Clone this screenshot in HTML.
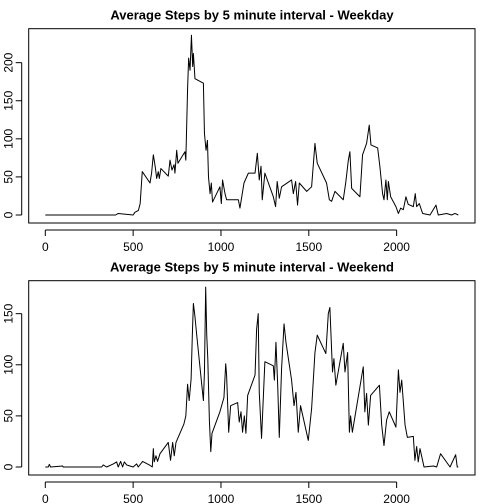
<!DOCTYPE html>
<html><head><meta charset="utf-8">
<style>
html,body{margin:0;padding:0;background:#fff;}
svg{display:block;font-family:"Liberation Sans",Arial,sans-serif;}
</style></head>
<body>
<svg id="c" width="504" height="504" xmlns="http://www.w3.org/2000/svg"></svg>
<script>
const xTicks = [0, 500, 1000, 1500, 2000];
const wdInterval = [0,400,415,500,510,530,540,552,596,605,615,626,634,643,649,658,700,710,721,733,738,748,755,795,800,804,810,816,824,832,839,843,852,900,906,915,923,929,938,945,952,994,1002,1009,1023,1032,1099,1108,1131,1156,1194,1207,1218,1228,1235,1250,1298,1311,1320,1332,1345,1402,1412,1425,1436,1446,1488,1516,1535,1548,1601,1617,1630,1649,1696,1710,1725,1734,1744,1791,1806,1829,1844,1854,1892,1905,1920,1928,1939,1947,1953,1966,1996,2010,2023,2038,2053,2066,2095,2106,2114,2129,2148,2190,2224,2237,2285,2313,2332,2351];
const wdSteps = [0,0,2,0,3.5,6,15,57,42,55,79,63,48,57,48,61,51,72,59,66,55,85,68,83,72,109,166,206,190,236,195,212,179,173,107,85,98,50,28,42,17,37,15,46,28,20,20,9,42,55,55,81,46,64,20,55,24,11,44,22,37,46,28,44,13,42,31,37,94,68,42,20,18,31,20,42,72,83,35,24,79,94,118,92,88,63,28,20,46,20,44,24,11,2,9,7,24,14,11,28,11,15,2,0,13,0,2,0,2,0];
const weInterval = [0,17,23,30,99,102,321,330,349,387,406,415,429,440,450,463,500,520,529,554,596,609,615,620,630,639,653,700,713,725,734,744,789,800,810,819,830,837,843,852,862,894,900,906,913,919,925,934,942,949,994,1017,1027,1032,1044,1055,1095,1104,1114,1123,1133,1142,1152,1194,1203,1212,1218,1231,1250,1298,1304,1313,1323,1332,1345,1359,1370,1402,1416,1427,1440,1453,1497,1516,1535,1548,1597,1611,1620,1635,1643,1654,1696,1706,1721,1731,1738,1748,1810,1819,1829,1839,1852,1902,1915,1928,1943,1958,1996,2010,2019,2029,2048,2061,2095,2104,2114,2123,2133,2156,2209,2228,2250,2304,2336,2345,2351];
const weSteps = [0,0,2.6,0,1,0,0,2,0,3,5,0,5.5,0,5,2,0,3,0,5.5,1.6,0,18,5,11,5.5,13,24,6.5,24,11,24,42,50,81,65,86,129,160,147,129,75,65,93,176,129,106,46,15,33,54,68,101,90,34,60,63,44,54,34,50,33,70,90,135,150,73,28,103,99,85,122,80,29,96,140,122,85,60,73,34,60,26,57,112,129,111,150,156,93,106,80,121,93,112,34,50,34,98,54,72,41,70,80,41,21,46,54,39,95,73,85,41,29,30,6.5,20,5,18,0,1,0,13,0,12,0,0];
const wdYTicks = [0,50,100,150,200];
const weYTicks = [0,50,100,150];

const svg = document.getElementById('c');
const NS = 'http://www.w3.org/2000/svg';
function mk(tag, attrs, parent){const e=document.createElementNS(NS,tag);for(const k in attrs)e.setAttribute(k,attrs[k]);(parent||svg).appendChild(e);return e;}

function panel(opts){
  const g = mk('g',{});
  
  
  const L=28.7,R=475,T=opts.top,B=opts.top+194.3;
  const xS = v => 45.3 + v*0.175665;
  const yS = v => opts.y0 - v*opts.yk;
  const t = mk('text',{x:252,y:T-9,'text-anchor':'middle','font-size':'13','font-weight':'bold',fill:'#000'},g);
  t.textContent = opts.title;
  
  
  const box = mk('rect',{x:L,y:T,width:R-L,height:B-T,fill:'none',stroke:'#000','stroke-width':1},g);
  
  
  const xa = mk('g',{},g);
  
  
  mk('line',{x1:xS(xTicks[0]),x2:xS(xTicks[xTicks.length-1]),y1:B+7,y2:B+7,stroke:'#000'},xa);
  xTicks.forEach(v=>{
    mk('line',{x1:xS(v),x2:xS(v),y1:B+7,y2:B+13,stroke:'#000'},xa);
    const tx = mk('text',{x:xS(v),y:B+28,'text-anchor':'middle','font-size':'12',fill:'#000'},xa);
    tx.textContent = v;
    
    
  });
  const ya = mk('g',{},g);
  
  
  const yt = opts.yTicks;
  mk('line',{x1:L-7,x2:L-7,y1:yS(yt[0]),y2:yS(yt[yt.length-1]),stroke:'#000'},ya);
  yt.forEach(v=>{
    mk('line',{x1:L-13,x2:L-7,y1:yS(v),y2:yS(v),stroke:'#000'},ya);
    const tx = mk('text',{x:0,y:0,'text-anchor':'middle','font-size':'12',fill:'#000',transform:`translate(12.5,${yS(v)}) rotate(-90)`},ya);
    tx.textContent = v;
    
    
  });
  const pts = opts.xs.map((x,i)=>xS(x).toFixed(2)+','+yS(opts.ys[i]).toFixed(2)).join(' ');
  const line = mk('polyline',{points:pts,fill:'none',stroke:'#000','stroke-width':1,'stroke-linejoin':'round'},g);
  
  
}
panel({name:'weekday-panel',title:'Average Steps by 5 minute interval - Weekday',top:28.7,y0:215,yk:0.7617,yTicks:wdYTicks,xs:wdInterval,ys:wdSteps});
panel({name:'weekend-panel',title:'Average Steps by 5 minute interval - Weekend',top:280.7,y0:467,yk:1.0222,yTicks:weYTicks,xs:weInterval,ys:weSteps});
</script>
</body></html>
